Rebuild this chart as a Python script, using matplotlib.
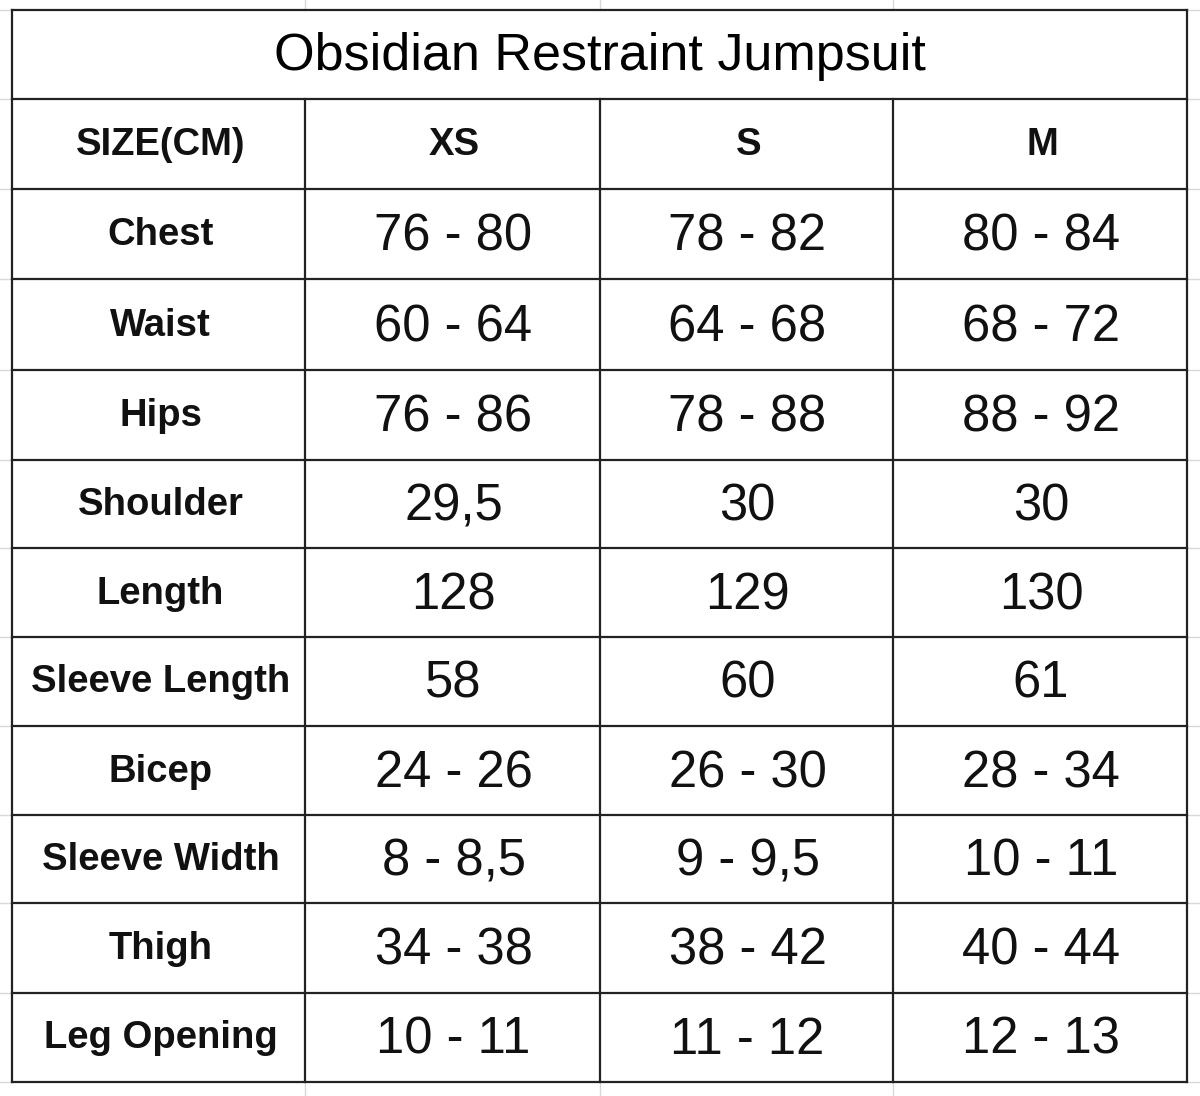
import matplotlib.pyplot as plt

title = "Obsidian Restraint Jumpsuit"
header = ["SIZE(CM)", "XS", "S", "M"]
measures = ["Chest", "Waist", "Hips", "Shoulder", "Length", "Sleeve Length",
            "Bicep", "Sleeve Width", "Thigh", "Leg Opening"]
xs = ["76 - 80", "60 - 64", "76 - 86", "29,5", "128", "58", "24 - 26", "8 - 8,5", "34 - 38", "10 - 11"]
s = ["78 - 82", "64 - 68", "78 - 88", "30", "129", "60", "26 - 30", "9 - 9,5", "38 - 42", "11 - 12"]
m = ["80 - 84", "68 - 72", "88 - 92", "30", "130", "61", "28 - 34", "10 - 11", "40 - 44", "12 - 13"]

# grid geometry in pixels
col_x = [12, 305, 600, 893, 1187]
row_y = [10, 99, 189, 279, 370, 460, 548, 637, 726, 815, 903, 993, 1082]

fig = plt.figure(figsize=(12, 10.96), dpi=100)
ax = fig.add_axes([0, 0, 1, 1])
ax.set_xlim(0, 1200)
ax.set_ylim(1096, 0)
ax.axis("off")

# faint spreadsheet lines
for x in col_x[1:-1]:
    ax.plot([x, x], [0, 10], color="#d8d8d8", lw=1)
    ax.plot([x, x], [1082, 1096], color="#d8d8d8", lw=1)
for y in row_y:
    ax.plot([0, 12], [y, y], color="#d8d8d8", lw=1)
    ax.plot([1187, 1200], [y, y], color="#d8d8d8", lw=1)

# table borders
for y in row_y:
    ax.plot([col_x[0], col_x[-1]], [y, y], color="#222222", lw=1.6)
ax.plot([col_x[0]] * 2, [row_y[0], row_y[-1]], color="#222222", lw=1.6)
ax.plot([col_x[-1]] * 2, [row_y[0], row_y[-1]], color="#222222", lw=1.6)
for x in col_x[1:-1]:
    ax.plot([x, x], [row_y[1], row_y[-1]], color="#222222", lw=1.6)

font = "Liberation Sans"
ax.text((col_x[0] + col_x[-1]) / 2, (row_y[0] + row_y[1]) / 2 + 2, title,
        ha="center", va="center", fontsize=37.5, family=font)

rows = [header] + [[measures[i], xs[i], s[i], m[i]] for i in range(len(measures))]
for r, row in enumerate(rows):
    yc = (row_y[r + 1] + row_y[r + 2]) / 2
    for c, val in enumerate(row):
        xc = (col_x[c] + col_x[c + 1]) / 2
        if r == 0 or c == 0:
            ax.text(xc + 2, yc + 1, val, ha="center", va="center", fontsize=27.5,
                    fontweight="bold", family=font, color="#111111")
        else:
            ax.text(xc + 1, yc + 3, val, ha="center", va="center", fontsize=36.5,
                    family=font, color="#111111")

fig.savefig("out.png", dpi=100)
